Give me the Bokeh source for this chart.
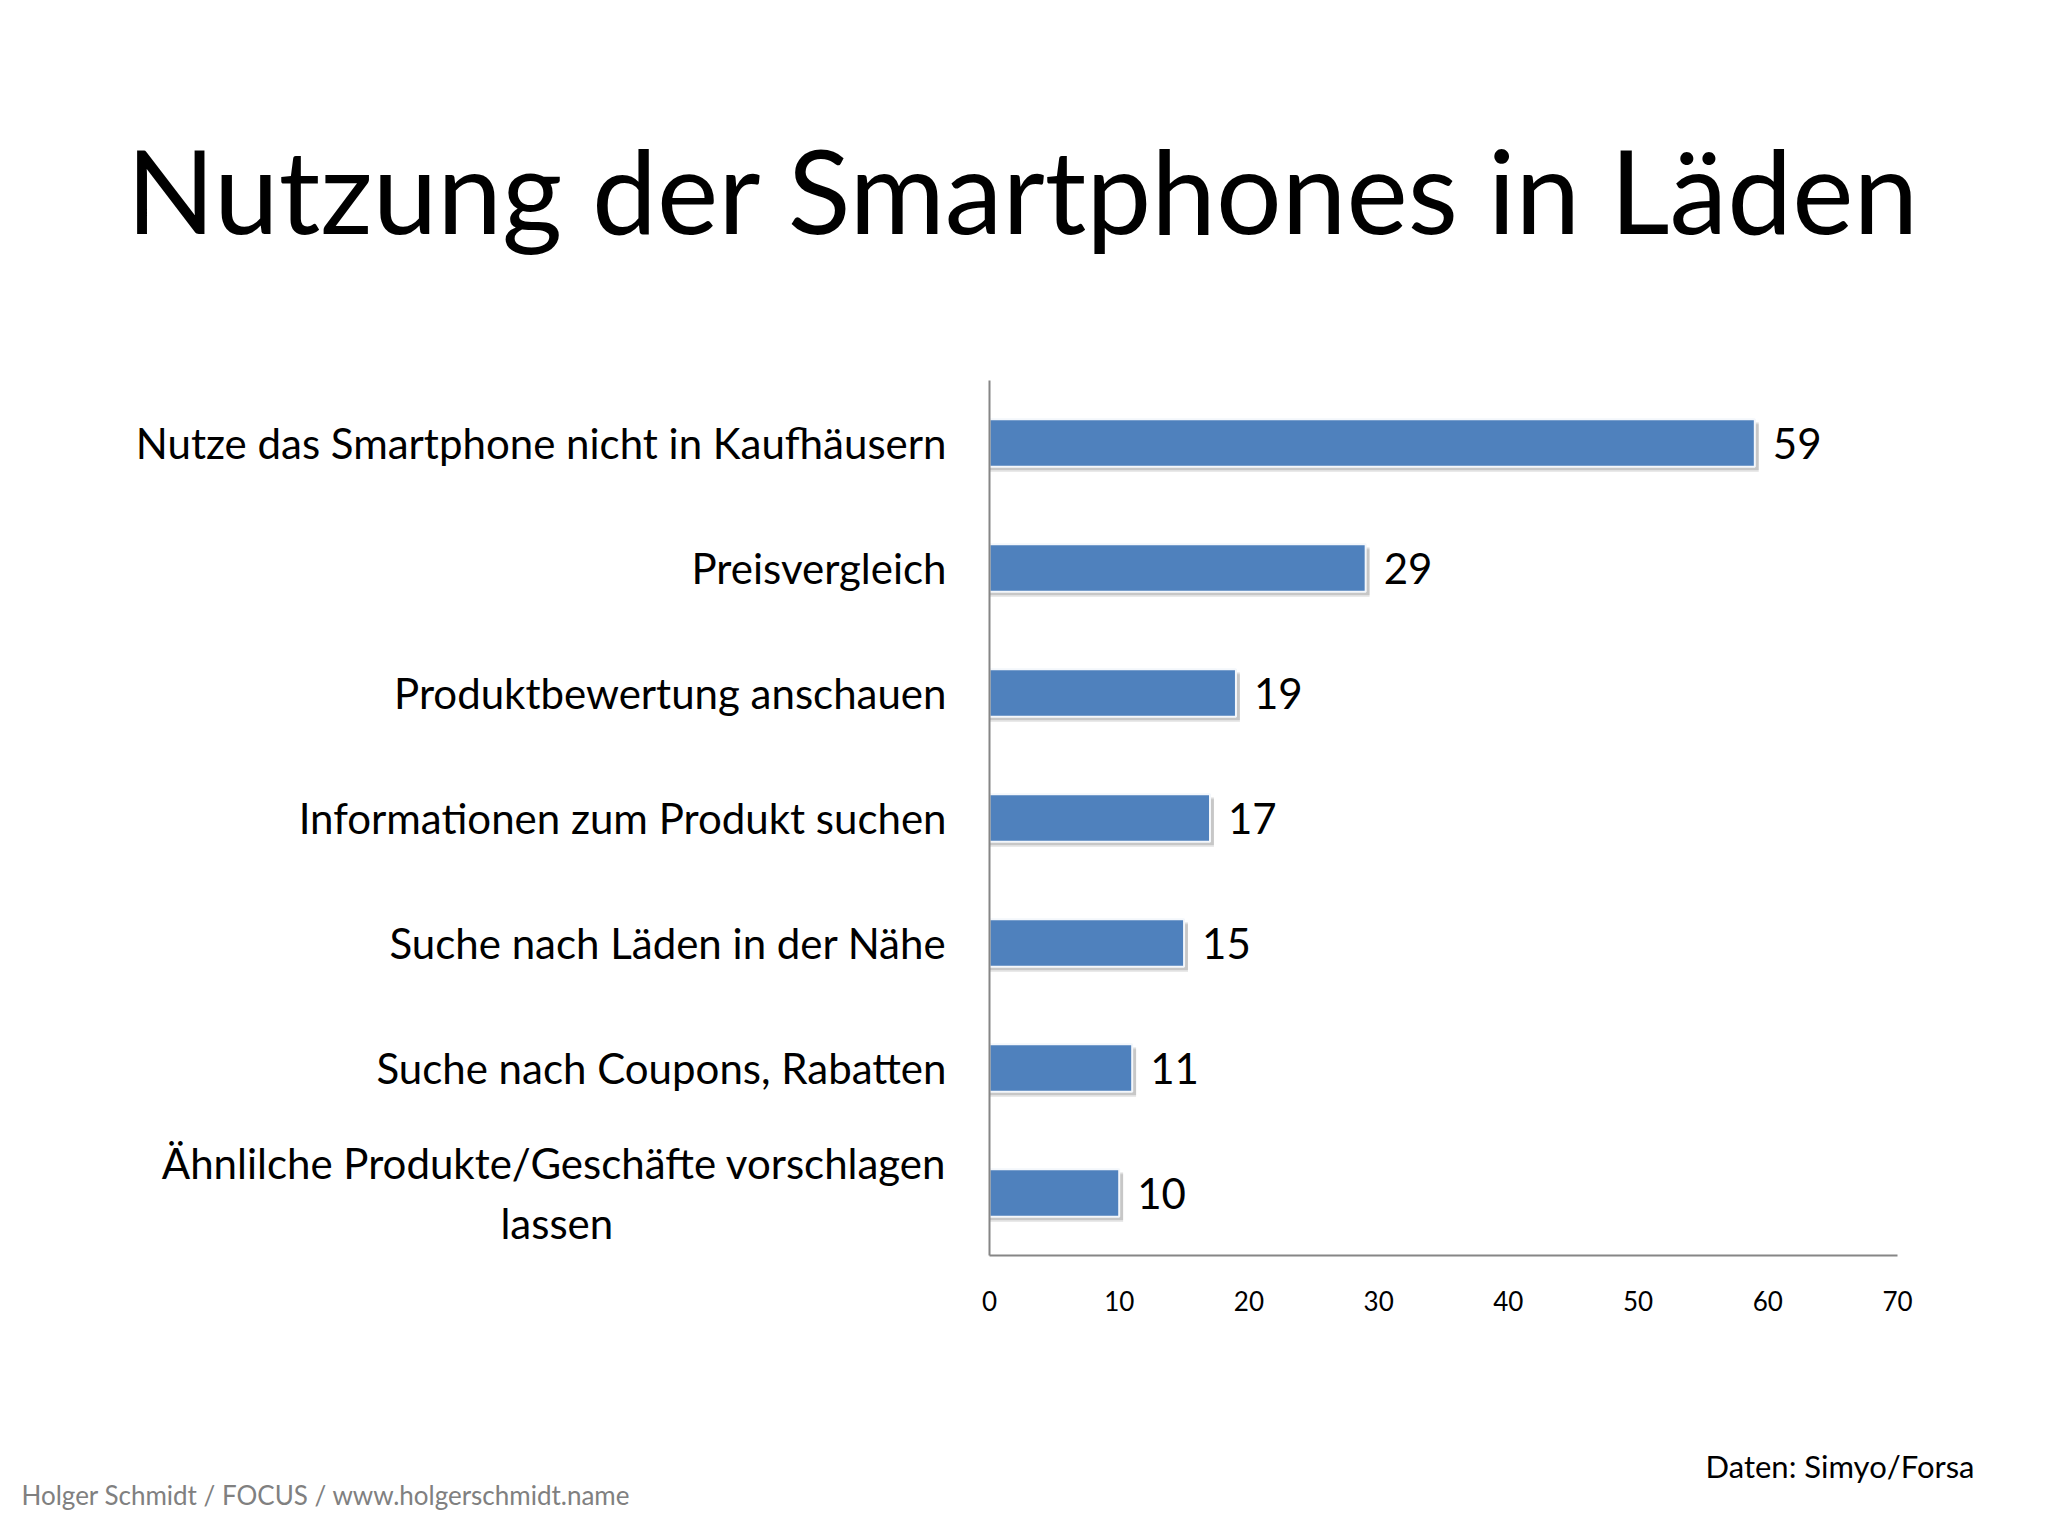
from bokeh.plotting import figure
from bokeh.layouts import column
from bokeh.models import (FactorRange, Range1d, FixedTicker, ColumnDataSource,
                          LabelSet)
from bokeh.core.properties import value
from bokeh.transform import dodge
from bokeh.embed import file_html
from bokeh.resources import INLINE

# ---------------- data ----------------
categories = [
    "Nutze das Smartphone nicht in Kaufhäusern",
    "Preisvergleich",
    "Produktbewertung anschauen",
    "Informationen zum Produkt suchen",
    "Suche nach Läden in der Nähe",
    "Suche nach Coupons, Rabatten",
    "Ähnlilche Produkte/Geschäfte vorschlagen\nlassen" + "\u00a0" * 31,
]
values = [59, 29, 19, 17, 15, 11, 10]
x_ticks = [0, 10, 20, 30, 40, 50, 60, 70]
title_text = "Nutzung der Smartphones in Läden"
footer_left = "Holger Schmidt / FOCUS / www.holgerschmidt.name"
footer_right = "Daten: Simyo/Forsa"

FONT = "Lato"
W = 2040
H_HEAD, H_MAIN, H_FOOT = 300, 1120, 108
FL, FR = 989, 1897            # frame left/right in canvas px
FT, FB = 380 - H_HEAD, 1255 - H_HEAD  # frame top/bottom inside main figure


def text_panel(height):
    f = figure(width=W, height=height, output_backend="svg",
               toolbar_location=None, x_range=Range1d(0, W),
               y_range=Range1d(height, 0), x_axis_location=None,
               y_axis_location=None, min_border=0, frame_align=False)
    f.title = None
    f.outline_line_color = None
    f.xgrid.visible = False
    f.ygrid.visible = False
    f.background_fill_color = "white"
    f.border_fill_color = "white"
    return f


# ---------------- header ----------------
head = text_panel(H_HEAD)
head.text(x=[1023], y=[189], text=[title_text], text_align="center",
          text_baseline="alphabetic", text_font=value(FONT),
          text_font_size="116px", text_color="black")

# ---------------- main chart ----------------
src = ColumnDataSource(dict(cat=categories, val=values,
                            lab=[str(v) for v in values],
                            shadow=[v + 0.3 for v in values]))

p = figure(width=W, height=H_MAIN, output_backend="svg", toolbar_location=None,
           y_range=FactorRange(*categories[::-1], range_padding=0),
           x_range=Range1d(0, 70), frame_align=False,
           min_border_left=FL, min_border_right=W - FR,
           min_border_top=FT, min_border_bottom=H_MAIN - FB)
p.outline_line_color = None
p.xgrid.visible = False
p.ygrid.visible = False
p.background_fill_color = "white"
p.border_fill_color = "white"

# shadow
p.hbar(y=dodge("cat", -0.04, range=p.y_range), left=0, right="shadow",
       height=0.38, source=src, fill_color="#9a9a9a", fill_alpha=0.3,
       line_color=None)
p.hbar(y=dodge("cat", -0.025, range=p.y_range), left=0, right="shadow",
       height=0.38, source=src, fill_color="#8a8a8a", fill_alpha=0.3,
       line_color=None)
# bars
p.hbar(y="cat", left=0, right="val", height=0.38, source=src,
       fill_color="#4F81BD", line_color="#f4f7fb", line_width=2)

labels = LabelSet(x="val", y="cat", text="lab", source=src, x_offset=18,
                  text_baseline="middle", text_font=value(FONT),
                  text_font_size="42px", text_color="black")
p.add_layout(labels)

xa = p.xaxis[0]
xa.ticker = FixedTicker(ticks=x_ticks)
xa.major_tick_line_color = None
xa.minor_tick_line_color = None
xa.axis_line_color = "#868686"
xa.axis_line_width = 2
xa.major_label_text_font = FONT
xa.major_label_text_font_size = "26px"
xa.major_label_text_color = "black"
xa.major_label_standoff = 29

ya = p.yaxis[0]
ya.major_tick_line_color = None
ya.minor_tick_line_color = None
ya.axis_line_color = "#868686"
ya.axis_line_width = 2
ya.major_label_text_font = FONT
ya.major_label_text_font_size = "42px"
ya.major_label_text_color = "black"
ya.major_label_standoff = 37

# ---------------- footer ----------------
foot = text_panel(H_FOOT)
foot.text(x=[1974], y=[45], text=[footer_right], text_align="right",
          text_baseline="alphabetic", text_font=value(FONT),
          text_font_size="31px", text_color="black")
foot.text(x=[21], y=[74], text=[footer_left], text_align="left",
          text_baseline="alphabetic", text_font=value(FONT),
          text_font_size="26px", text_color="#808080")

layout = column(head, p, foot, spacing=0)
open("out.html", "w").write(file_html(layout, INLINE))
